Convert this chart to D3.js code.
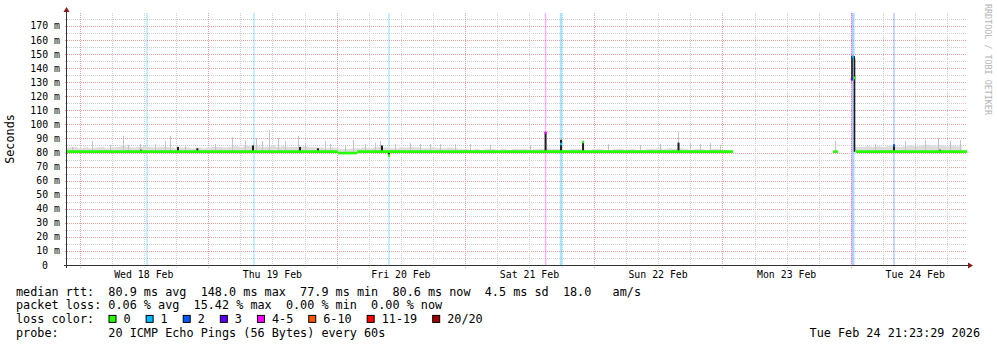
<!DOCTYPE html>
<html>
<head>
<meta charset="utf-8">
<script src="https://cdn.jsdelivr.net/npm/d3@7/dist/d3.min.js"></script>
<style>
  html, body { margin: 0; padding: 0; background: #ffffff; }
  svg { display: block; }
  text { font-family: "DejaVu Sans Mono", "Liberation Mono", monospace; fill: #000; }
</style>
</head>
<body>
<svg id="chart" width="997" height="347"></svg>
<script>
// ---------- data ----------
const windowStart = "2026-02-17 21:40";
const windowEnd   = "2026-02-24 21:40";

const dayStarts = ["2026-02-18", "2026-02-19", "2026-02-20", "2026-02-21", "2026-02-22", "2026-02-23", "2026-02-24"];
const dayLabels = ["Wed 18 Feb", "Thu 19 Feb", "Fri 20 Feb", "Sat 21 Feb", "Sun 22 Feb", "Mon 23 Feb", "Tue 24 Feb"];

const yTickValues = [0, 10, 20, 30, 40, 50, 60, 70, 80, 90, 100, 110, 120, 130, 140, 150, 160, 170];
const yTickLabels = ["0", "10 m", "20 m", "30 m", "40 m", "50 m", "60 m", "70 m", "80 m", "90 m",
                     "100 m", "110 m", "120 m", "130 m", "140 m", "150 m", "160 m", "170 m"];

// median rtt (ms) held over time ranges
const medianFrom = ["2026-02-17 21:40", "2026-02-20 00:15", "2026-02-20 03:50", "2026-02-23 20:39", "2026-02-24 00:57"];
const medianTo   = ["2026-02-20 00:15", "2026-02-20 03:50", "2026-02-23 01:59", "2026-02-23 21:35", "2026-02-24 21:40"];
const medianMs   = [80.6, 79.6, 80.6, 80.6, 80.6];

// hourly upper edge of the ping spread (ms); null = no data
const smokeHourStart = "2026-02-17 21:40";
const smokeTop = [
  83.5, 84.0, 83.0, 83.5, 83.0, 83.5, 84.0, 83.0, 83.5, 84.0, 85.0, 84.0, 83.5, 84.0, 84.5, 84.0, 83.5, 84.0, 84.0, 83.5, 83.0, 83.5, 83.5, 83.0,
  83.5, 83.0, 83.5, 84.0, 84.0, 83.5, 84.0, 84.5, 84.0, 85.0, 84.5, 84.5, 84.0, 84.0, 85.0, 84.0, 84.5, 84.0, 84.0, 84.0, 84.5, 84.0, 83.5, 83.5,
  83.0, 83.5, 83.0, 82.5, 82.5, 83.0, 83.0, 83.5, 83.0, 83.5, 84.0, 83.5, 83.0, 83.0, 83.5, 83.5, 84.0, 83.5, 83.0, 83.0, 83.5, 83.0, 83.0, 83.5,
  83.0, 82.5, 82.5, 82.0, 82.5, 82.0, 82.5, 82.5, 82.0, 82.5, 82.0, 82.5, 82.5, 82.5, 82.0, 82.5, 82.5, 83.0, 82.5, 82.5, 82.0, 82.0, 82.5, 82.5,
  82.0, 82.0, 82.5, 82.5, 82.0, 82.0, 82.5, 82.5, 82.0, 82.5, 82.0, 82.0, 82.5, 82.5, 83.0, 82.5, 83.0, 82.5, 83.0, 82.5, 82.0, 82.5, 82.5, 82.0,
  82.5, 82.5, 82.0, 82.0, null, null, null, null, null, null, null, null, null, null, null, null, null, null, null, null, null, null, null, 82.5,
  null, null, null, 84.0, 84.0, 84.5, 84.0, 84.5, 84.0, 85.0, 84.5, 84.0, 84.5, 85.0, 84.5, 85.0, 85.5, 85.0, 84.5, 85.0, 84.5, 85.0, 84.5, 84.0
];

// isolated tall pings: time and upper edge (ms)
const spikeTimes = [
  "2026-02-17 22:36", "2026-02-18 02:20", "2026-02-18 05:42", "2026-02-18 08:07", "2026-02-18 09:03", "2026-02-18 11:18",
  "2026-02-18 14:06", "2026-02-18 15:58", "2026-02-18 16:54", "2026-02-18 19:42", "2026-02-19 01:18", "2026-02-19 04:28",
  "2026-02-19 06:54", "2026-02-19 08:23", "2026-02-19 08:57", "2026-02-19 10:04", "2026-02-19 11:22", "2026-02-19 13:03",
  "2026-02-19 14:22", "2026-02-19 16:47", "2026-02-19 18:06", "2026-02-19 21:50", "2026-02-19 22:46", "2026-02-20 01:34",
  "2026-02-20 03:03", "2026-02-20 05:18", "2026-02-20 07:10", "2026-02-20 08:06", "2026-02-20 10:54", "2026-02-20 13:42",
  "2026-02-20 15:34", "2026-02-20 17:26", "2026-02-20 19:18", "2026-02-20 22:06", "2026-02-21 00:54", "2026-02-21 04:38",
  "2026-02-21 12:06", "2026-02-22 02:39", "2026-02-22 08:38", "2026-02-22 12:22", "2026-02-22 15:43", "2026-02-22 18:00",
  "2026-02-22 19:50", "2026-02-22 21:42", "2026-02-22 23:34", "2026-02-23 21:02", "2026-02-24 04:30", "2026-02-24 10:06",
  "2026-02-24 11:58", "2026-02-24 13:50", "2026-02-24 16:15", "2026-02-24 18:30", "2026-02-24 20:22"];
const spikeMs = [
  84, 88, 85, 91.7, 85.5, 86,
  86, 88, 91.7, 85, 86, 91,
  88, 87, 90, 88, 96, 90,
  88, 92, 87, 88, 86, 85,
  89, 86, 87, 88, 86, 87,
  86, 86, 86, 86, 86, 85,
  85, 86, 85, 86, 94.8, 87,
  86, 87, 85, 88, 86, 88,
  87, 89, 90, 88, 89];

// dense ping clusters around loss events: time, low and high edge (ms)
const clusterTimes = ["2026-02-18 11:29", "2026-02-18 18:23", "2026-02-18 22:00", "2026-02-19 08:23", "2026-02-19 17:10",
                      "2026-02-19 20:31", "2026-02-20 08:28", "2026-02-20 09:46", "2026-02-21 15:00", "2026-02-21 17:53",
                      "2026-02-21 22:00", "2026-02-22 15:49", "2026-02-24 08:02", "2026-02-24 16:38"];
const clusterLow  = [80.6, 80.0, 80.0, 81.0, 80.0, 80.0, 80.0, 77.9, 80.0, 80.0, 80.0, 80.0, 80.0, 80.0];
const clusterHigh = [82.0, 84.0, 83.0, 85.0, 84.0, 83.0, 85.0, 80.6, 94.5, 89.0, 87.0, 87.0, 85.0, 82.0];

// loss events: time and loss level index into lossLabels
const lossTimes = ["2026-02-18 12:36", "2026-02-19 08:34", "2026-02-20 09:46", "2026-02-21 15:00",
                   "2026-02-21 17:48", "2026-02-21 17:59", "2026-02-24 00:12", "2026-02-24 00:23", "2026-02-24 00:34", "2026-02-24 08:02"];
const lossLevel = [1, 1, 1, 4, 1, 1, 4, 1, 1, 2];

// median values that carried loss colour at those moments
const markTimes = ["2026-02-21 15:00", "2026-02-21 17:53", "2026-02-21 22:00", "2026-02-20 09:46",
                   "2026-02-24 00:10", "2026-02-24 00:23", "2026-02-24 00:45", "2026-02-24 08:02"];
const markMs    = [94.0, 86.0, 87.5, 77.9, 132, 148, 133, 85];
const markLevel = [4, 1, 0, 0, 3, 1, 0, 2];

// the single large excursion of the median
const excursionTimes = ["2026-02-24 00:12", "2026-02-24 00:12", "2026-02-24 00:36", "2026-02-24 00:40", "2026-02-24 00:40"];
const excursionMs    = [132, 148, 148, 146, 80.6];

const lossLabels = ["0", "1", "2", "3", "4-5", "6-10", "11-19", "20/20"];
const lossColors = ["#26ff00", "#00b8ff", "#0059ff", "#5e00ff", "#ff00ff", "#ff5500", "#ff0000", "#a10000"];

const rttValues = ["80.9", "148.0", "77.9", "80.6", "4.5"];
const rttUnits  = ["ms avg", "ms max", "ms min", "ms now", "ms sd"];
const rttRate   = "18.0";
const lossValues = ["0.06", "15.42", "0.00", "0.00"];
const lossUnits  = ["% avg", "% max", "% min", "% now"];
const probeText = "20 ICMP Echo Pings (56 Bytes) every 60s";
const stampText = "Tue Feb 24 21:23:29 2026";

// ---------- layout ----------
const parse = d3.timeParse("%Y-%m-%d %H:%M");
const parseDay = d3.timeParse("%Y-%m-%d");
const plotLeft = 67, plotRight = 967, plotTop = 13, plotBottom = 265;

const x = d3.scaleTime().domain([parse(windowStart), parse(windowEnd)]).range([plotLeft, plotRight]);
const y = d3.scaleLinear().domain([0, 179.2]).range([plotBottom, plotTop]);

const svg = d3.select("#chart");
svg.append("rect").attr("width", 997).attr("height", 347).attr("fill", "#ffffff");

const gridMinor = "#d0d0d0", gridMajor = "#e9a0a0";
const grid = svg.append("g").attr("shape-rendering", "crispEdges");

// horizontal grid: every 5 ms minor, every 10 ms major
d3.range(5, 180, 10).forEach(v => {
  grid.append("line").attr("x1", plotLeft - 2).attr("x2", plotRight)
    .attr("y1", Math.round(y(v)) + 0.5).attr("y2", Math.round(y(v)) + 0.5)
    .attr("stroke", gridMinor).attr("stroke-dasharray", "1,1");
});
yTickValues.forEach(v => {
  if (v === 0) return;
  grid.append("line").attr("x1", plotLeft - 2).attr("x2", plotRight)
    .attr("y1", Math.round(y(v)) + 0.5).attr("y2", Math.round(y(v)) + 0.5)
    .attr("stroke", gridMajor).attr("stroke-dasharray", "1,1");
});

// vertical grid: every 6 hours minor, midnight major
const sixHours = d3.timeHour.every(6).range(x.domain()[0], x.domain()[1]);
sixHours.forEach(t => {
  const major = t.getHours() === 0;
  const px = Math.round(x(t)) + 0.5;
  grid.append("line").attr("x1", px).attr("x2", px)
    .attr("y1", plotTop).attr("y2", plotBottom + 3)
    .attr("stroke", major ? gridMajor : gridMinor).attr("stroke-dasharray", "1,1");
});

// loss shading, full height
const lossG = svg.append("g");
lossTimes.forEach((t, i) => {
  lossG.append("rect")
    .attr("x", x(parse(t)) - 0.75).attr("width", 1.5)
    .attr("y", plotTop).attr("height", plotBottom - plotTop)
    .attr("fill", lossColors[lossLevel[i]]).attr("opacity", 0.3);
});

// ping spread (smoke)
const hour0 = parse(smokeHourStart);
const smokePts = smokeTop.map((v, i) => ({ t: d3.timeHour.offset(hour0, i), v }));
const medianAt = t => {
  for (let i = 0; i < medianFrom.length; i++) {
    if (t >= parse(medianFrom[i]) && t <= parse(medianTo[i])) return medianMs[i];
  }
  return 80.6;
};
const smokeArea = d3.area()
  .defined(d => d.v !== null)
  .curve(d3.curveStepAfter)
  .x(d => x(d.t))
  .y0(d => y(medianAt(d.t) - 0.4))
  .y1(d => y(d.v));
svg.append("path").datum(smokePts).attr("d", smokeArea).attr("fill", "#dcdcdc");

const spikeG = svg.append("g").attr("shape-rendering", "crispEdges");
spikeTimes.forEach((t, i) => {
  const px = Math.round(x(parse(t))) + 0.5;
  spikeG.append("line").attr("x1", px).attr("x2", px)
    .attr("y1", y(80.6)).attr("y2", y(spikeMs[i]))
    .attr("stroke", "#c4c4c4").attr("stroke-width", 1);
});

// dense clusters
clusterTimes.forEach((t, i) => {
  svg.append("rect")
    .attr("x", x(parse(t)) - 1).attr("width", 2)
    .attr("y", y(clusterHigh[i])).attr("height", y(clusterLow[i]) - y(clusterHigh[i]))
    .attr("fill", "#1e1e1e");
});

// median line
medianFrom.forEach((f, i) => {
  svg.append("line")
    .attr("x1", x(parse(f))).attr("x2", x(parse(medianTo[i])))
    .attr("y1", y(medianMs[i])).attr("y2", y(medianMs[i]))
    .attr("stroke", lossColors[0]).attr("stroke-width", 2.6);
});

// excursion of the median
const exLine = d3.line().x(d => x(parse(d[0]))).y(d => y(d[1]));
svg.append("path").datum(excursionTimes.map((t, i) => [t, excursionMs[i]]))
  .attr("d", exLine).attr("fill", "none").attr("stroke", "#1a1a1a").attr("stroke-width", 1.6);

// loss-coloured median marks
markTimes.forEach((t, i) => {
  svg.append("rect")
    .attr("x", x(parse(t)) - 1).attr("width", 2)
    .attr("y", y(markMs[i]) - 1.3).attr("height", 2.6)
    .attr("fill", lossColors[markLevel[i]]);
});

// axes
const axisColor = "#333333", arrowColor = "#8b1a1a";
svg.append("line").attr("x1", plotLeft - 0.5).attr("x2", plotLeft - 0.5)
  .attr("y1", plotTop - 1).attr("y2", plotBottom + 3)
  .attr("stroke", axisColor).attr("stroke-width", 1);
svg.append("line").attr("x1", plotLeft - 3).attr("x2", plotRight + 2)
  .attr("y1", plotBottom + 0.5).attr("y2", plotBottom + 0.5)
  .attr("stroke", axisColor).attr("stroke-width", 1);
svg.append("path")
  .attr("d", `M${plotLeft - 3.5},${plotTop - 1} L${plotLeft + 2.5},${plotTop - 1} L${plotLeft - 0.5},${plotTop - 6} Z`)
  .attr("fill", arrowColor);
svg.append("path")
  .attr("d", `M${plotRight + 1},${plotBottom - 2.5} L${plotRight + 1},${plotBottom + 3.5} L${plotRight + 6},${plotBottom + 0.5} Z`)
  .attr("fill", arrowColor);

// y labels
const axisFont = 9.85;
yTickValues.forEach((v, i) => {
  svg.append("text")
    .attr("x", v === 0 ? 48 : 60).attr("y", y(v) + 3.5)
    .attr("text-anchor", "end").attr("font-size", axisFont)
    .text(yTickLabels[i]);
});

// x labels at noon of each day
dayStarts.forEach((d, i) => {
  const noon = d3.timeHour.offset(parseDay(d), 12);
  svg.append("text")
    .attr("x", x(noon)).attr("y", 278)
    .attr("text-anchor", "middle").attr("font-size", axisFont)
    .text(dayLabels[i]);
});

// vertical titles
svg.append("text")
  .attr("transform", "translate(14,139) rotate(-90)")
  .attr("text-anchor", "middle").attr("font-size", 11.8)
  .text("Seconds");
svg.append("text")
  .attr("transform", "translate(985,4) rotate(90)")
  .attr("font-size", 8.4).style("fill", "#b4b4b4")
  .text("RRDTOOL / TOBI OETIKER");

// legend
const legFont = 11.8, legLeft = 16;
const legRows = [295.5, 309.2, 322.9, 336.6];
const pre = (s, yy, xx = legLeft) => svg.append("text")
  .attr("x", xx).attr("y", yy).attr("font-size", legFont)
  .attr("xml:space", "preserve").style("white-space", "pre").text(s);

pre("median rtt:  " + rttValues.map((v, i) => v + " " + rttUnits[i]).join("  ") + "  " + rttRate + "   am/s", legRows[0]);
pre("packet loss: " + lossValues.map((v, i) => v + " " + lossUnits[i]).join("  "), legRows[1]);
pre("loss color:", legRows[2]);
pre("probe:       " + probeText, legRows[3]);
svg.append("text").attr("x", 980).attr("y", legRows[3]).attr("font-size", legFont)
  .attr("text-anchor", "end").text(stampText);

let cursor = 108.5;
lossLabels.forEach((lab, i) => {
  svg.append("rect").attr("x", cursor + 0.5).attr("y", legRows[2] - 7.5)
    .attr("width", 7).attr("height", 7)
    .attr("fill", lossColors[i]).attr("stroke", "#000").attr("stroke-width", 1);
  const t = pre(lab, legRows[2], cursor + 15);
  const w = t.node().getComputedTextLength();
  cursor = cursor + 15 + w + 15;
});
</script>
</body>
</html>
